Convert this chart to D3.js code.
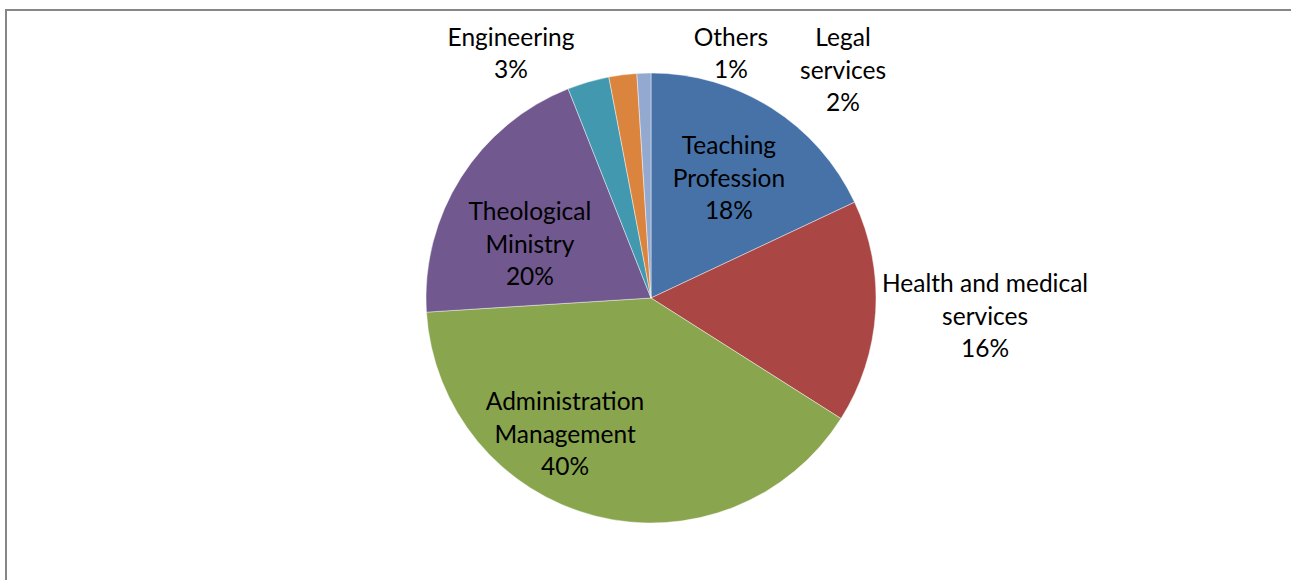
<!doctype html>
<html lang="en">
	<head>
		<meta charset="utf-8">
		<title>Occupation pie</title>
		<script src="https://cdn.jsdelivr.net/npm/d3@7"></script>
		<style>
			html, body { margin: 0; padding: 0; background: #fff; }
			svg { display: block; }
			.lbl { font-family: Lato, "Open Sans", sans-serif; fill: #000; }
		</style>
	</head>
	<body>
		<script>
			// values, clockwise from 12 o'clock
			var categories = ["Teaching Profession", "Health and medical services", "Administration Management",
				"Theological Ministry", "Engineering", "Legal services", "Others"];
			var shares = [18, 16, 40, 20, 3, 2, 1];
			var labelLines = [
				["Teaching", "Profession"],
				["Health and medical", "services"],
				["Administration", "Management"],
				["Theological", "Ministry"],
				["Engineering"],
				["Legal", "services"],
				["Others"]
			];
			var colors = ["#4672A8", "#AA4644", "#89A54E", "#71588F", "#4198AF", "#DB843D", "#93A9CF"];

			// label placement: shift from the slice's mid angle (deg) and distance in radii
			var labelPlace = [[0.6, 0.636], [-0.5, 1.487], [17.9, 0.715], [-8.4, 0.589],
				[-13.6, 1.252], [47.3, 1.325], [19.9, 1.143]];

			var W = 1291, H = 580;
			var cx = 651, cy = 298, R = 225;
			var fontSize = 24.5, lineH = 32.5;

			var svg = d3.select("body").append("svg").attr("width", W).attr("height", H);

			// chart frame (runs off the right and bottom of the picture)
			svg.append("rect")
				.attr("x", 6).attr("y", 10)
				.attr("width", W + 20).attr("height", H + 20)
				.attr("fill", "none").attr("stroke", "#868686").attr("stroke-width", 2);

			var data = shares.map(function(v, i) {
				return { name: categories[i], value: v, lines: labelLines[i], color: colors[i], place: labelPlace[i] };
			});

			var pie = d3.pie().sort(null).value(function(d) { return d.value; });
			var arc = d3.arc().innerRadius(0).outerRadius(R);
			var arcs = pie(data);

			var g = svg.append("g").attr("transform", "translate(" + cx + "," + cy + ")");

			g.selectAll("path")
				.data(arcs)
				.enter()
				.append("path")
				.attr("d", arc)
				.attr("fill", function(d) { return d.data.color; })
				.attr("stroke", "rgba(255,255,255,0.55)")
				.attr("stroke-width", 0.8);

			var total = d3.sum(shares);
			var labels = g.selectAll("text")
				.data(arcs)
				.enter()
				.append("text")
				.attr("class", "lbl")
				.attr("font-size", fontSize)
				.attr("text-anchor", "middle")
				.attr("transform", function(d) {
					var a = (d.startAngle + d.endAngle) / 2 + d.data.place[0] * Math.PI / 180;
					var r = d.data.place[1] * R;
					return "translate(" + (Math.sin(a) * r) + "," + (-Math.cos(a) * r) + ")";
				});

			labels.each(function(d) {
				var lines = d.data.lines.concat([Math.round(d.data.value / total * 100) + "%"]);
				var t = d3.select(this);
				var y0 = -(lines.length - 1) * lineH / 2;
				lines.forEach(function(s, i) {
					t.append("tspan")
						.attr("x", 0)
						.attr("y", y0 + i * lineH)
						.attr("dy", "0.35em")
						.text(s);
				});
			});
		</script>
	</body>
</html>
